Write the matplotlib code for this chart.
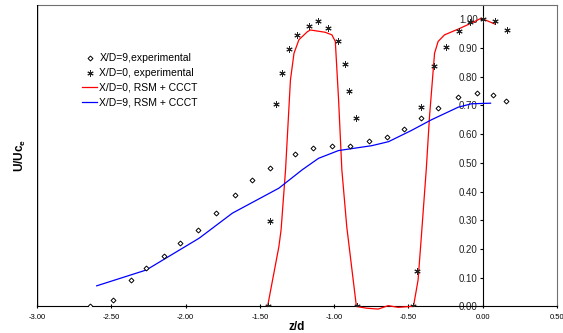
import matplotlib
matplotlib.use("Agg")
import matplotlib.pyplot as plt
from matplotlib.ticker import FormatStrFormatter, MultipleLocator

plt.rcParams["font.family"] = ["Liberation Sans", "DejaVu Sans"]

# ── Data ──────────────────────────────────────────────────────────────────────
# X/D=9 experimental (open diamonds)
exp9_z = [-2.645, -2.49, -2.366, -2.267, -2.143, -2.04, -1.913, -1.797, -1.67,
          -1.555, -1.431, -1.266, -1.142, -1.015, -0.89, -0.763, -0.647, -0.53,
          -0.418, -0.30, -0.165, -0.038, 0.067, 0.157]
exp9_u = [0.0, 0.023, 0.091, 0.133, 0.175, 0.221, 0.267, 0.327, 0.387,
          0.44, 0.484, 0.531, 0.553, 0.559, 0.559, 0.577, 0.591, 0.618,
          0.656, 0.693, 0.729, 0.743, 0.738, 0.716]

# X/D=0 experimental (asterisks)
exp0_z = [-1.448, -1.43, -1.39, -1.354, -1.305, -1.247, -1.169, -1.11, -1.041,
          -0.974, -0.927, -0.898, -0.856, -0.845, -0.466, -0.443, -0.418, -0.33,
          -0.25, -0.157, -0.088, 0.0, 0.08, 0.165]
exp0_u = [0.0, 0.299, 0.705, 0.812, 0.896, 0.946, 0.978, 0.994, 0.969,
          0.923, 0.845, 0.752, 0.656, 0.0, 0.0, 0.125, 0.696, 0.836,
          0.902, 0.96, 0.991, 1.0, 0.996, 0.963]

# X/D=0 RSM + CCCT (red)
rsm0_z = [-1.448, -1.372, -1.357, -1.327, -1.294, -1.27, -1.237, -1.18, -1.16,
          -1.06, -1.015, -0.992, -0.97, -0.948, -0.915, -0.85, -0.78, -0.703,
          -0.636, -0.569, -0.49, -0.466, -0.435, -0.413, -0.38, -0.358, -0.324,
          -0.30, -0.257, -0.165, -0.076, -0.01, 0.08]
rsm0_u = [0.0, 0.208, 0.267, 0.476, 0.789, 0.882, 0.929, 0.957, 0.963,
          0.955, 0.946, 0.923, 0.72, 0.476, 0.278, 0.0, -0.006, -0.009,
          0.003, -0.003, 0.0, 0.0, 0.092, 0.243, 0.476, 0.661, 0.882,
          0.923, 0.946, 0.966, 0.987, 1.004, 0.984]

# X/D=9 RSM + CCCT (blue)
rsm9_z = [-2.598, -2.265, -1.908, -1.685, -1.372, -1.215, -1.105, -0.971,
          -0.747, -0.634, -0.48, -0.346, -0.165, -0.076, 0.053]
rsm9_u = [0.072, 0.127, 0.238, 0.325, 0.412, 0.476, 0.516, 0.543,
          0.56, 0.574, 0.613, 0.65, 0.694, 0.706, 0.708]

fig = plt.figure(figsize=(5.63, 3.33), dpi=100)
ax = fig.add_axes([0.0657, 0.0796, 0.9236, 0.9054])

ax.plot(exp9_z, exp9_u, linestyle="none", marker="D", markersize=2.5,
        mfc="white", mec="black", mew=0.7, label="X/D=9,experimental", zorder=4)
ax.plot(exp0_z, exp0_u, linestyle="none", marker=(6, 2, 0), markersize=4.5,
        color="#222222", mew=0.7, label="X/D=0, experimental", zorder=4)
ax.plot(rsm0_z, rsm0_u, color="#ff0000", lw=0.9, clip_on=False,
        label="X/D=0, RSM + CCCT", zorder=3)
ax.plot(rsm9_z, rsm9_u, color="#0000ff", lw=0.9, label="X/D=9, RSM + CCCT",
        zorder=3)

ax.set_xlim(-3.0, 0.5)
ax.set_ylim(0.0, 1.05)

# ── Axes styling (Excel-like) ─────────────────────────────────────────────────
ax.spines["left"].set_position(("data", 0))
ax.spines["left"].set_color("black")
ax.spines["bottom"].set_color("black")
for s in ("top", "right"):
    ax.spines[s].set_color("#707070")
ax.axvline(-3.0, color="black", lw=1.0, zorder=5)

ax.xaxis.set_major_locator(MultipleLocator(0.5))
ax.yaxis.set_major_locator(MultipleLocator(0.1))
ax.xaxis.set_major_formatter(FormatStrFormatter("%.2f"))
ax.yaxis.set_major_formatter(FormatStrFormatter("%.2f"))
ax.tick_params(axis="x", direction="inout", length=3, width=0.8,
               labelsize=5.5, colors="black", pad=4)
ax.tick_params(axis="y", direction="out", length=2.5, width=0.8,
               labelsize=7, pad=1, labelcolor="#222222")

ax.set_xlabel("z/d", fontsize=8.5, fontweight="bold", labelpad=0)
ax.set_ylabel("U/Uc$_\\mathregular{e}$", fontsize=8.5, fontweight="bold")
ax.yaxis.set_label_coords(-0.018, 0.5)

ax.legend(loc="upper left", bbox_to_anchor=(0.078, 0.853), frameon=False,
          fontsize=7.5, handlelength=1.5, handletextpad=0.2,
          labelspacing=0.45, borderaxespad=0)

fig.savefig("out.png", dpi=100)
